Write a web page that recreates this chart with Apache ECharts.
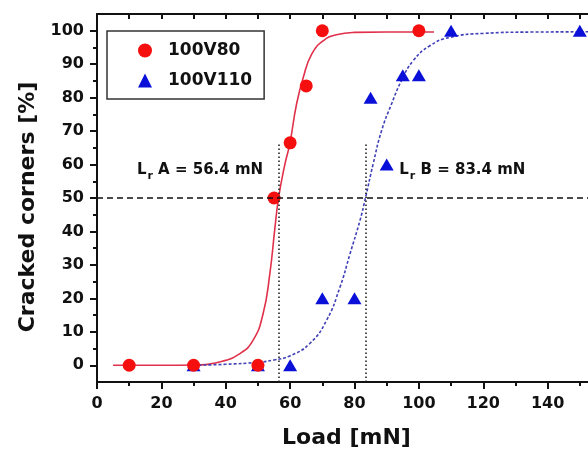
<!DOCTYPE html>
<html>
<head>
<meta charset="utf-8">
<script src="https://cdn.jsdelivr.net/npm/echarts@6/dist/echarts.min.js"></script>
<style>
  html, body { margin: 0; padding: 0; background: #fff; }
  #main { width: 588px; height: 452px; }
</style>
</head>
<body>
<div id="main"></div>
<script>
// measured points, [load mN, cracked %]
var red80 = [[10, 0], [30, 0], [50, 0], [55, 50], [60, 66.5], [65, 83.5], [70, 100], [100, 100]];
var blue110 = [[30, 0], [50, 0], [60, 0], [70, 20], [80, 20], [85, 80], [90, 60], [95, 86.7], [100, 86.7], [110, 100], [150, 100]];

// fitted curves
var redFit = [[5, 0], [20, 0], [30, 0.1], [38, 1], [44.4, 3.5], [48.5, 7.5], [51.6, 15.4], [53.7, 27.4],
  [55.3, 41.3], [56.4, 50], [58.4, 60.2], [59.9, 66.2], [62, 78.1], [64.1, 86.1], [66.7, 93], [70.3, 97],
  [74.4, 98.8], [80, 99.5], [90, 99.6], [104.7, 99.6]];
var blueFit = [[30, 0], [40, 0.3], [50, 0.9], [55, 1.6], [59.9, 2.8], [66.1, 6.5], [71.3, 13.4], [75.5, 23.4],
  [78.6, 33.3], [81.7, 43.3], [83.4, 50], [85.8, 60.2], [88.4, 70.1], [91.5, 78.1], [94.6, 85.1], [98.2, 91],
  [103.4, 95.5], [109.6, 98], [120, 99.2], [135, 99.6], [160, 99.7]];

// L_r values and where the guides / notes sit
var lrValues = [56.4, 83.4];
var lrNames = ['A', 'B'];
var guideTop = 66;
var halfLevel = 50;
var notePos = [[32, 58], [113.5, 58]];

var yTicks = [0, 10, 20, 30, 40, 50, 60, 70, 80, 90, 100];
var yMinor = [5, 15, 25, 35, 45, 55, 65, 75, 85, 95];

var font = 'DejaVu Sans';
var ink = '#111';

var myChart = echarts.init(document.getElementById('main'));

var guides = [{ yAxis: halfLevel, lineStyle: { type: [6, 4], width: 1.6, color: ink } }];
lrValues.forEach(function (v) {
    guides.push([
        { coord: [v, -5], lineStyle: { type: [1.5, 2.5], width: 1.6, color: '#222' } },
        { coord: [v, guideTop] }
    ]);
});

var notes = lrValues.map(function (v, i) {
    return {
        coord: notePos[i],
        symbolSize: 0,
        label: {
            show: true,
            position: 'inside',
            formatter: '{l|L}{s|r}{t| ' + lrNames[i] + ' = ' + v + ' mN}'
        }
    };
});

let option = {
    backgroundColor: '#fff',
    animation: false,
    textStyle: { fontFamily: font, fontWeight: 'bold', color: ink },
    // plot runs past the right edge of the picture (cropped original)
    grid: { left: 97, top: 14, height: 368, width: 515, outerBoundsMode: 'none', containLabel: false },
    legend: {
        left: 107,
        top: 31,
        orient: 'vertical',
        data: ['100V80', '100V110'],
        borderColor: '#333',
        borderWidth: 1.5,
        borderRadius: 0,
        padding: [11, 12, 10, 31],
        itemGap: 13,
        itemWidth: 14,
        itemHeight: 14,
        textStyle: { fontFamily: font, fontWeight: 'bold', fontSize: 17, color: ink, padding: [0, 0, 0, 11] }
    },
    xAxis: [
        {
            type: 'value',
            min: 0,
            max: 160,
            interval: 20,
            name: 'Load [mN]',
            nameLocation: 'middle',
            nameGap: 45,
            nameTextStyle: { fontFamily: font, fontWeight: 'bold', fontSize: 22, color: ink, padding: [0, 16, 0, 0] },
            axisLine: { onZero: false, lineStyle: { color: ink, width: 2 } },
            axisTick: { length: 7, lineStyle: { color: ink, width: 2 } },
            minorTick: { show: true, splitNumber: 2, length: 4, lineStyle: { color: ink, width: 2 } },
            axisLabel: { margin: 14, fontFamily: font, fontWeight: 'bold', fontSize: 16, color: ink },
            splitLine: { show: false }
        },
        {
            type: 'value',
            position: 'top',
            min: 0,
            max: 160,
            interval: 20,
            axisLine: { onZero: false, lineStyle: { color: ink, width: 2 } },
            axisTick: { inside: true, length: 5, lineStyle: { color: ink, width: 2 } },
            minorTick: { show: true, splitNumber: 2, length: 5, lineStyle: { color: ink, width: 2 } },
            axisLabel: { show: false },
            splitLine: { show: false }
        }
    ],
    yAxis: [
        {
            type: 'value',
            min: -5,
            max: 105,
            name: 'Cracked corners [%]',
            nameLocation: 'middle',
            nameGap: 58,
            nameTextStyle: { fontFamily: font, fontWeight: 'bold', fontSize: 22, color: ink, padding: [0, 18, 0, 0] },
            axisLine: { onZero: false, lineStyle: { color: ink, width: 2 } },
            axisTick: { length: 7, customValues: yTicks, lineStyle: { color: ink, width: 2 } },
            axisLabel: { margin: 13, customValues: yTicks, fontFamily: font, fontWeight: 'bold', fontSize: 16, color: ink },
            splitLine: { show: false }
        },
        {
            type: 'value',
            position: 'left',
            min: -5,
            max: 105,
            axisLine: { show: false },
            axisTick: { length: 4, customValues: yMinor, lineStyle: { color: ink, width: 2 } },
            axisLabel: { show: false },
            splitLine: { show: false }
        }
    ],
    series: [
        {
            name: 'fit 100V80',
            type: 'line',
            data: redFit,
            smooth: 0.5,
            showSymbol: false,
            lineStyle: { color: '#e0304a', width: 1.6 },
            z: 2,
            markLine: { symbol: 'none', silent: true, label: { show: false }, data: guides }
        },
        {
            name: 'fit 100V110',
            type: 'line',
            data: blueFit,
            smooth: 0.5,
            showSymbol: false,
            lineStyle: { color: '#4040b8', width: 1.6, type: [3, 2] },
            z: 2,
            markPoint: {
                silent: true,
                data: notes,
                label: {
                    rich: {
                        l: { fontFamily: font, fontWeight: 'bold', fontSize: 15, color: ink, lineHeight: 17, verticalAlign: 'top' },
                        s: { fontFamily: font, fontWeight: 'bold', fontSize: 11, color: ink, lineHeight: 11, verticalAlign: 'top', padding: [8, 0, 0, 1] },
                        t: { fontFamily: font, fontWeight: 'bold', fontSize: 15, color: ink, lineHeight: 17, verticalAlign: 'top' }
                    }
                }
            }
        },
        {
            name: '100V110',
            type: 'scatter',
            data: blue110,
            symbol: 'triangle',
            symbolSize: [14, 12],
            itemStyle: { color: '#0a10d8', opacity: 1 },
            z: 3
        },
        {
            name: '100V80',
            type: 'scatter',
            data: red80,
            symbol: 'circle',
            symbolSize: 13,
            itemStyle: { color: '#f50f0f', opacity: 1 },
            z: 4
        }
    ]
};

myChart.setOption(option);
</script>
</body>
</html>
